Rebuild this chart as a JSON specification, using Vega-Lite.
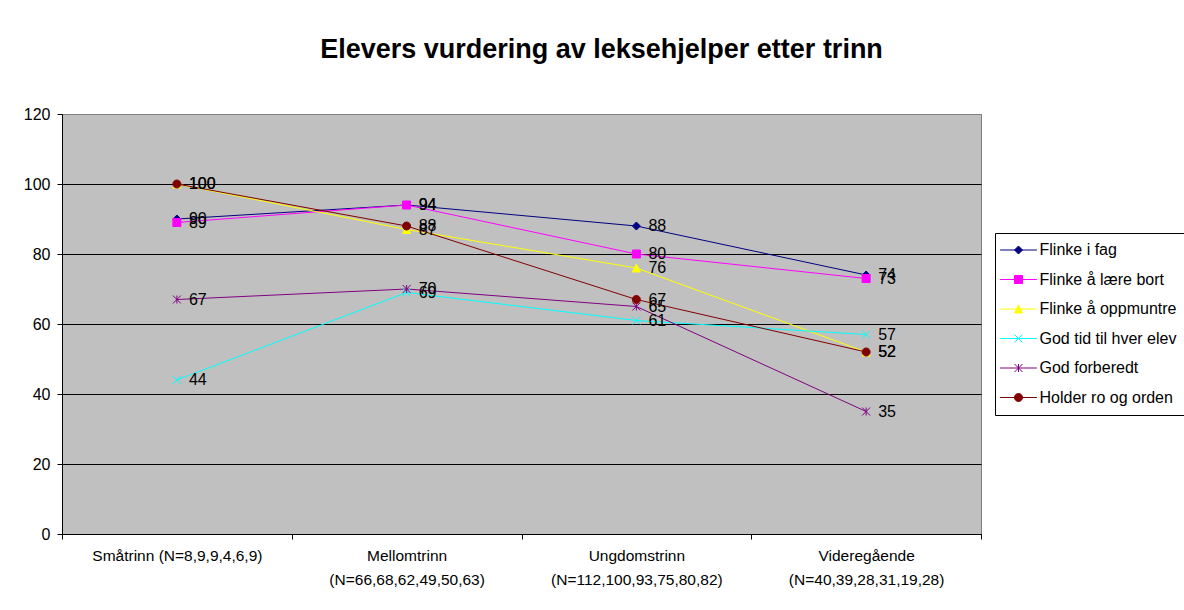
{
  "$schema": "https://vega.github.io/schema/vega-lite/v6.json",
  "width": 919,
  "height": 420,
  "autosize": {"type": "none"},
  "padding": {"left": 62, "top": 114, "right": 203, "bottom": 76},
  "background": "white",
  "title": {
    "text": "Elevers vurdering av leksehjelper etter trinn",
    "font": "Liberation Sans",
    "fontSize": 27,
    "fontWeight": "bold",
    "color": "black",
    "anchor": "middle",
    "frame": "group",
    "dx": 80,
    "baseline": "alphabetic",
    "offset": 21
  },
  "config": {
    "view": {"fill": "#C0C0C0", "stroke": "#808080", "strokeWidth": 1},
    "font": "Liberation Sans"
  },
  "data": {
    "values": [
      {"serie": "Flinke i fag", "trinn": "Småtrinn (N=8,9,9,4,6,9)", "verdi": 90},
      {"serie": "Flinke i fag", "trinn": "Mellomtrinn\n(N=66,68,62,49,50,63)", "verdi": 94},
      {"serie": "Flinke i fag", "trinn": "Ungdomstrinn\n(N=112,100,93,75,80,82)", "verdi": 88},
      {"serie": "Flinke i fag", "trinn": "Videregående\n(N=40,39,28,31,19,28)", "verdi": 74},
      {"serie": "Flinke å lære bort", "trinn": "Småtrinn (N=8,9,9,4,6,9)", "verdi": 89},
      {"serie": "Flinke å lære bort", "trinn": "Mellomtrinn\n(N=66,68,62,49,50,63)", "verdi": 94},
      {"serie": "Flinke å lære bort", "trinn": "Ungdomstrinn\n(N=112,100,93,75,80,82)", "verdi": 80},
      {"serie": "Flinke å lære bort", "trinn": "Videregående\n(N=40,39,28,31,19,28)", "verdi": 73},
      {"serie": "Flinke å oppmuntre", "trinn": "Småtrinn (N=8,9,9,4,6,9)", "verdi": 100},
      {"serie": "Flinke å oppmuntre", "trinn": "Mellomtrinn\n(N=66,68,62,49,50,63)", "verdi": 87},
      {"serie": "Flinke å oppmuntre", "trinn": "Ungdomstrinn\n(N=112,100,93,75,80,82)", "verdi": 76},
      {"serie": "Flinke å oppmuntre", "trinn": "Videregående\n(N=40,39,28,31,19,28)", "verdi": 52},
      {"serie": "God tid til hver elev", "trinn": "Småtrinn (N=8,9,9,4,6,9)", "verdi": 44},
      {"serie": "God tid til hver elev", "trinn": "Mellomtrinn\n(N=66,68,62,49,50,63)", "verdi": 69},
      {"serie": "God tid til hver elev", "trinn": "Ungdomstrinn\n(N=112,100,93,75,80,82)", "verdi": 61},
      {"serie": "God tid til hver elev", "trinn": "Videregående\n(N=40,39,28,31,19,28)", "verdi": 57},
      {"serie": "God forberedt", "trinn": "Småtrinn (N=8,9,9,4,6,9)", "verdi": 67},
      {"serie": "God forberedt", "trinn": "Mellomtrinn\n(N=66,68,62,49,50,63)", "verdi": 70},
      {"serie": "God forberedt", "trinn": "Ungdomstrinn\n(N=112,100,93,75,80,82)", "verdi": 65},
      {"serie": "God forberedt", "trinn": "Videregående\n(N=40,39,28,31,19,28)", "verdi": 35},
      {"serie": "Holder ro og orden", "trinn": "Småtrinn (N=8,9,9,4,6,9)", "verdi": 100},
      {"serie": "Holder ro og orden", "trinn": "Mellomtrinn\n(N=66,68,62,49,50,63)", "verdi": 88},
      {"serie": "Holder ro og orden", "trinn": "Ungdomstrinn\n(N=112,100,93,75,80,82)", "verdi": 67},
      {"serie": "Holder ro og orden", "trinn": "Videregående\n(N=40,39,28,31,19,28)", "verdi": 52}
    ]
  },
  "encoding": {
    "x": {
      "field": "trinn",
      "type": "nominal",
      "sort": null,
      "scale": {"type": "band", "paddingInner": 0, "paddingOuter": 0},
      "axis": {
        "title": null,
        "labelAngle": 0,
        "tickBand": "extent",
        "ticks": true,
        "tickSize": 5,
        "tickColor": "black",
        "domainColor": "black",
        "labelFont": "Liberation Sans",
        "labelFontSize": 15.5,
        "labelColor": "black",
        "labelPadding": 9,
        "labelLineHeight": 24,
        "labelBaseline": "top",
        "labelLimit": 0,
        "labelExpr": "split(datum.label, '\\n')",
        "grid": false
      }
    },
    "y": {
      "field": "verdi",
      "type": "quantitative",
      "scale": {"domain": [0, 120]},
      "axis": {
        "title": null,
        "values": [0, 20, 40, 60, 80, 100, 120],
        "grid": true,
        "gridColor": {"condition": {"test": "datum.value == 120", "value": "#808080"}, "value": "black"},
        "gridWidth": 1,
        "gridOpacity": 1,
        "tickSize": 5,
        "tickColor": "black",
        "domainColor": "black",
        "labelFont": "Liberation Sans",
        "labelFontSize": 16,
        "labelColor": "black",
        "labelPadding": 7
      }
    }
  },
  "layer": [
    {
      "mark": {"type": "line", "strokeWidth": 1},
      "encoding": {
        "order": {"value": null},
        "color": {
          "field": "serie",
          "type": "nominal",
          "scale": {
            "domain": ["Flinke i fag", "Flinke å lære bort", "Flinke å oppmuntre", "God tid til hver elev", "God forberedt", "Holder ro og orden"],
            "range": ["#000080", "#FF00FF", "#FFFF00", "#00FFFF", "#800080", "#800000"]
          },
          "legend": {
            "title": null,
            "orient": "none",
            "legendX": 933,
            "legendY": 119,
            "strokeColor": "black",
            "fillColor": "white",
            "padding": 9,
            "labelFont": "Liberation Sans",
            "labelFontSize": 16,
            "labelColor": "black",
            "labelLimit": 0,
            "symbolSize": 64,
            "symbolOffset": 6.5,
            "labelOffset": 13,
            "rowPadding": 13.5,
            "symbolStrokeWidth": 1,
            "encode": {
              "symbols": {
                "update": {
                  "shape": {"signal": "{'Flinke i fag': 'M0,-1L1,0L0,1L-1,0Z', 'Flinke å lære bort': 'M-1,-1H1V1H-1Z', 'Flinke å oppmuntre': 'M0,-1L1,1L-1,1Z', 'God tid til hver elev': 'M-1,-1L1,1M-1,1L1,-1', 'God forberedt': 'M-1,-1L1,1M-1,1L1,-1M0,-1V1', 'Holder ro og orden': 'M-1,0A1,1,0,1,1,1,0A1,1,0,1,1,-1,0Z'}[datum.value] + 'M-4.6,0H4.6'"},
                  "fill": {"signal": "scale('color', datum.value)"},
                  "strokeWidth": {"value": 1}
                }
              }
            }
          }
        }
      }
    },
    {
      "transform": [{"filter": {"field": "serie", "equal": "Flinke i fag"}}],
      "mark": {"type": "point", "shape": "M0,-1L1,0L0,1L-1,0Z", "filled": true, "size": 64, "strokeWidth": 1, "opacity": 1},
      "encoding": {
        "color": {"field": "serie", "type": "nominal", "legend": null},
        "stroke": {
          "field": "serie",
          "type": "nominal",
          "scale": {
            "domain": ["Flinke i fag", "Flinke å lære bort", "Flinke å oppmuntre", "God tid til hver elev", "God forberedt", "Holder ro og orden"],
            "range": ["#000080", "#FF00FF", "#FFFF00", "#00FFFF", "#800080", "#800000"]
          },
          "legend": null
        }
      }
    },
    {
      "transform": [{"filter": {"field": "serie", "equal": "Flinke å lære bort"}}],
      "mark": {"type": "point", "shape": "M-1,-1H1V1H-1Z", "filled": true, "size": 64, "strokeWidth": 1, "opacity": 1},
      "encoding": {
        "color": {"field": "serie", "type": "nominal", "legend": null},
        "stroke": {"field": "serie", "type": "nominal", "legend": null}
      }
    },
    {
      "transform": [{"filter": {"field": "serie", "equal": "Flinke å oppmuntre"}}],
      "mark": {"type": "point", "shape": "M0,-1L1,1L-1,1Z", "filled": true, "size": 64, "strokeWidth": 1, "opacity": 1},
      "encoding": {
        "color": {"field": "serie", "type": "nominal", "legend": null},
        "stroke": {"field": "serie", "type": "nominal", "legend": null}
      }
    },
    {
      "transform": [{"filter": {"field": "serie", "equal": "God tid til hver elev"}}],
      "mark": {"type": "point", "shape": "M-1,-1L1,1M-1,1L1,-1", "filled": true, "size": 64, "strokeWidth": 1, "opacity": 1},
      "encoding": {
        "color": {"field": "serie", "type": "nominal", "legend": null},
        "stroke": {"field": "serie", "type": "nominal", "legend": null}
      }
    },
    {
      "transform": [{"filter": {"field": "serie", "equal": "God forberedt"}}],
      "mark": {"type": "point", "shape": "M-1,-1L1,1M-1,1L1,-1M0,-1V1", "filled": true, "size": 64, "strokeWidth": 1, "opacity": 1},
      "encoding": {
        "color": {"field": "serie", "type": "nominal", "legend": null},
        "stroke": {"field": "serie", "type": "nominal", "legend": null}
      }
    },
    {
      "transform": [{"filter": {"field": "serie", "equal": "Holder ro og orden"}}],
      "mark": {"type": "point", "shape": "M-1,0A1,1,0,1,1,1,0A1,1,0,1,1,-1,0Z", "filled": true, "size": 64, "strokeWidth": 1, "opacity": 1},
      "encoding": {
        "color": {"field": "serie", "type": "nominal", "legend": null},
        "stroke": {"field": "serie", "type": "nominal", "legend": null}
      }
    },
    {
      "mark": {"type": "text", "align": "left", "baseline": "middle", "dx": 12, "font": "Liberation Sans", "fontSize": 16, "color": "black"},
      "encoding": {
        "text": {"field": "verdi", "type": "quantitative"}
      }
    }
  ]
}
